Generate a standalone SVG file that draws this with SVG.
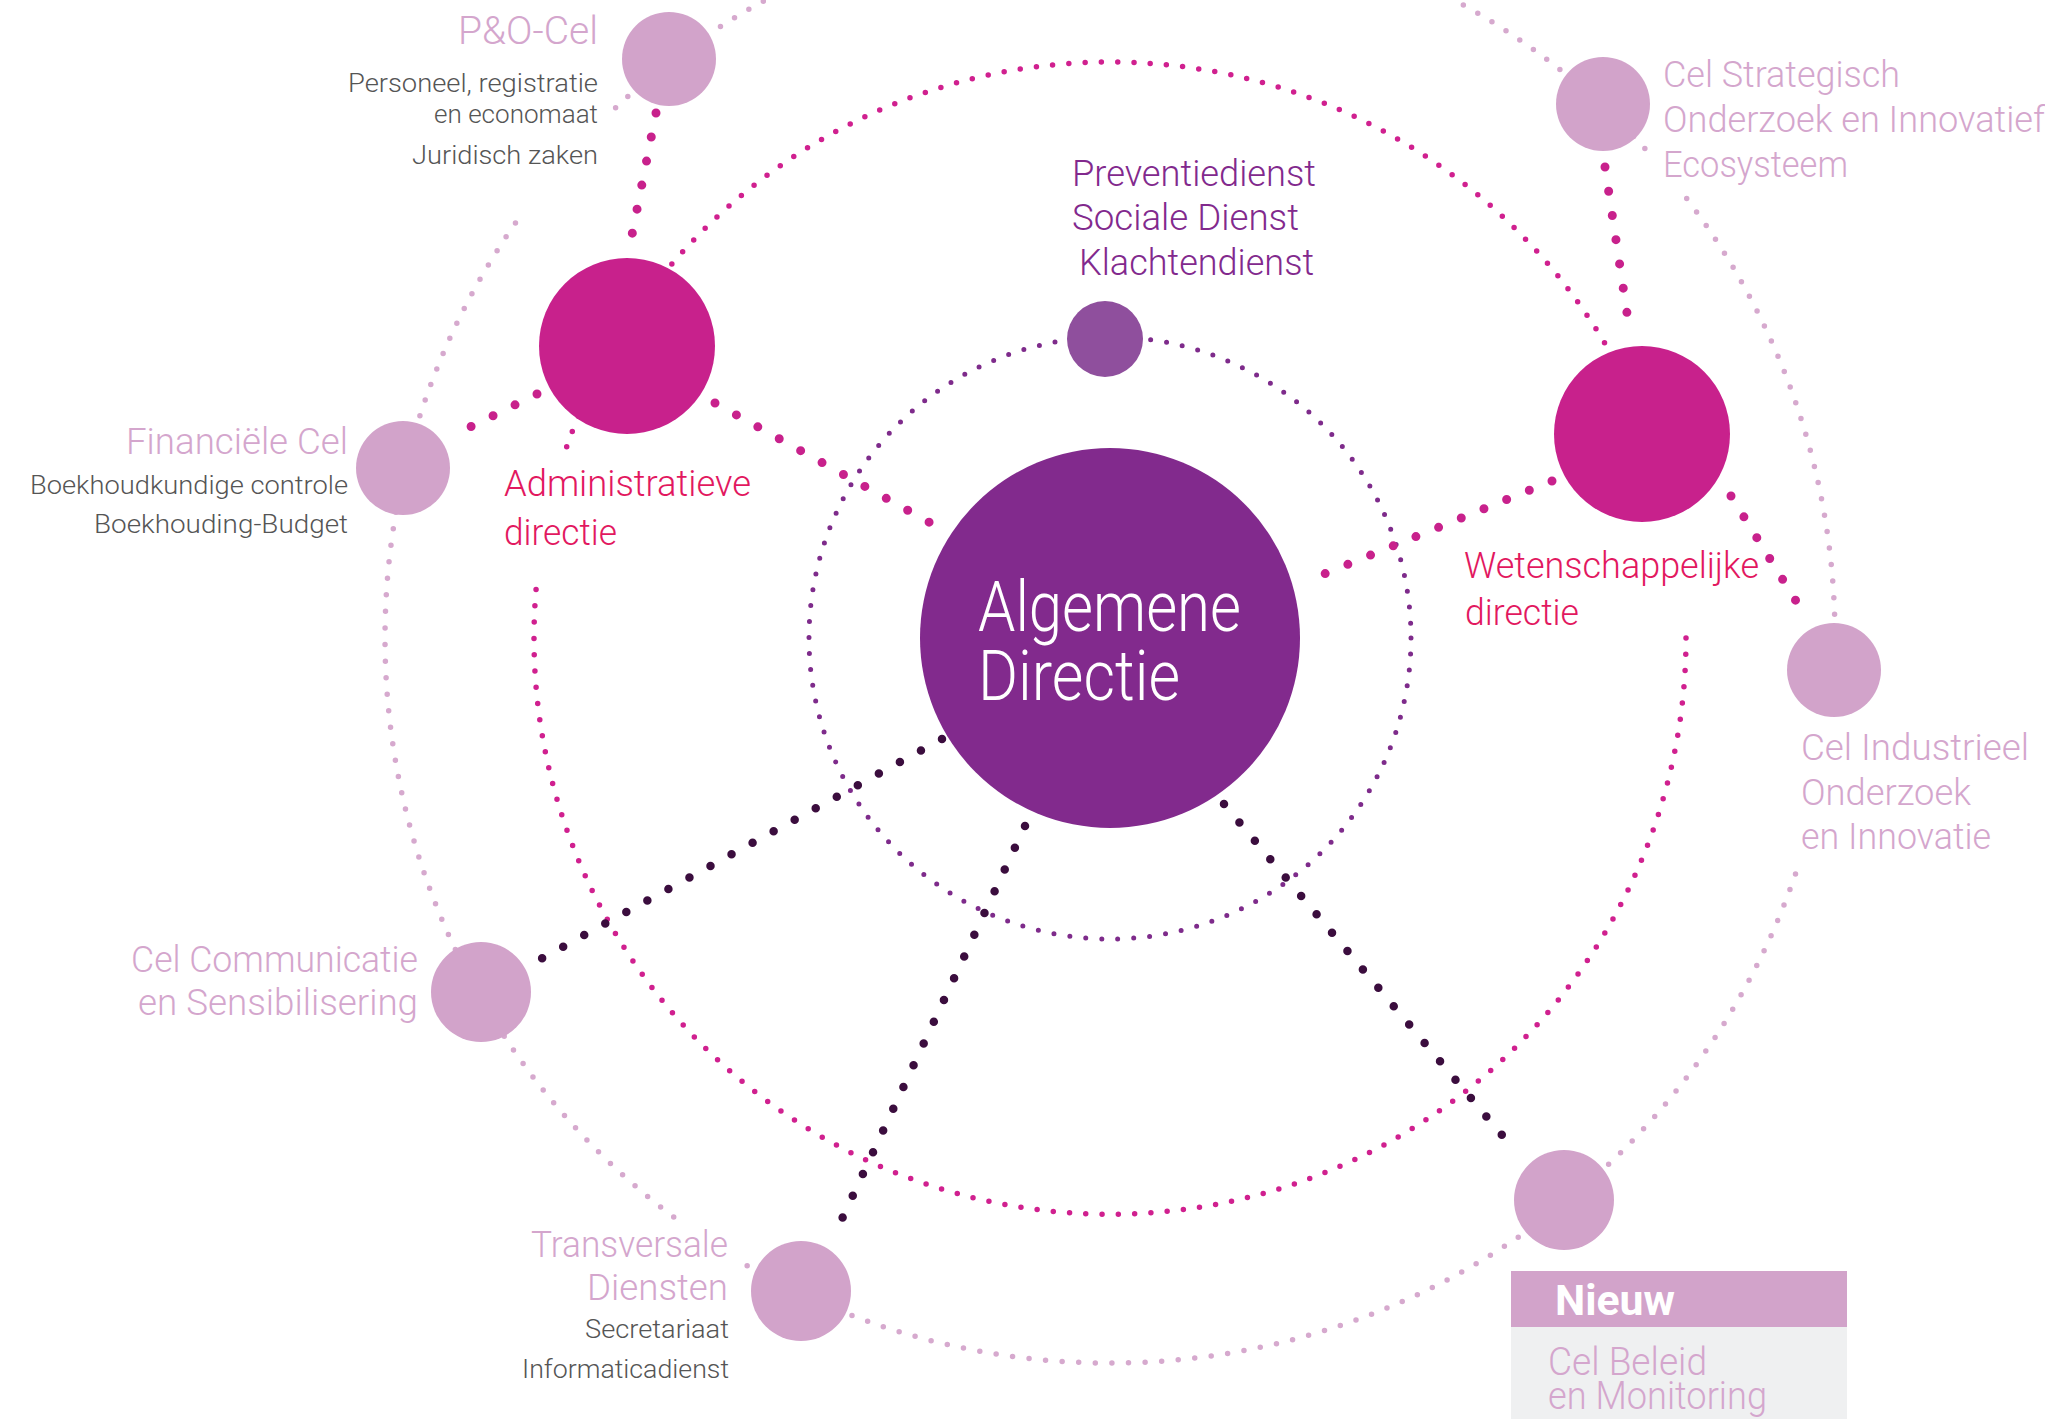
<svg xmlns="http://www.w3.org/2000/svg" width="2045" height="1419" viewBox="0 0 2045 1419">
<style>
.t{font-family:Roboto,"Liberation Sans","DejaVu Sans",sans-serif;font-weight:300}
.big{font-size:37px}
.sm{font-size:25px;fill:#555555}
.lp{fill:#d4a6cd}
.mg{fill:#e2185f}
.pu{fill:#82298d}
.ring{fill:none;stroke-linecap:round}
.r-in{stroke:#7e2b8b;stroke-width:5;stroke-dasharray:0 16.03}
.r-mid{stroke:#d0208f;stroke-width:5.5;stroke-dasharray:0 16.3}
.r-out{stroke:#d6a9ce;stroke-width:5.5;stroke-dasharray:0 16.6}
.c-dark{fill:none;stroke:#3b0d3e;stroke-width:8.5;stroke-linecap:round;stroke-dasharray:0 24}
.c-mag{fill:none;stroke:#c8218c;stroke-width:9;stroke-linecap:round;stroke-dasharray:0 24.5}
.n-lp{fill:#d2a3ca}
.n-mg{fill:#c8218c}
</style>
<rect width="2045" height="1419" fill="#ffffff"/>
<g id="rings">
<circle class="ring r-in" cx="1110" cy="638" r="301"/>
<path class="ring r-mid" d="M1686 638 A576 576 0 1 1 537.5 574.8"/>
<path class="ring r-mid" d="M566.7 446.7 A576 576 0 0 1 1673.4 518.2"/>
<path class="ring r-out" d="M615.6 107.7 A725 725 0 0 1 1648.8 152.9"/>
<path class="ring r-out" d="M1686.7 198.6 A725 725 0 0 1 1830.3 720.1"/>
<path class="ring r-out" d="M1795.5 874 A725 725 0 0 1 736.6 1259.5"/>
<path class="ring r-out" d="M673.7 1217 A725 725 0 0 1 523.5 211.8"/>
</g>
<g id="connectors">
<path class="c-dark" d="M942 739 L537 961"/>
<path class="c-dark" d="M1025 826 L835 1234"/>
<path class="c-dark" d="M1224 804 L1517 1153"/>
<path class="c-mag" d="M656 113 L629 250"/>
<path class="c-mag" d="M537 394 L456 434"/>
<path class="c-mag" d="M715 403 L936 526"/>
<path class="c-mag" d="M1552 481 L1312 579"/>
<path class="c-mag" d="M1605 167 L1630 333"/>
<path class="c-mag" d="M1731 496 L1801 609"/>
</g>
<g id="algemene-directie">
<circle cx="1110" cy="638" r="190" fill="#822a8d"/>
<text class="t" x="978" y="631" font-size="70" fill="#ffffff" textLength="263" lengthAdjust="spacingAndGlyphs">Algemene</text>
<text class="t" x="978" y="700" font-size="70" fill="#ffffff" textLength="202" lengthAdjust="spacingAndGlyphs">Directie</text>
</g>
<g id="preventiedienst">
<circle cx="1105" cy="339" r="38" fill="#8f4f9d"/>
<text class="t big pu" x="1072" y="186" textLength="244" lengthAdjust="spacingAndGlyphs">Preventiedienst</text>
<text class="t big pu" x="1072" y="230" textLength="227" lengthAdjust="spacingAndGlyphs">Sociale Dienst</text>
<text class="t big pu" x="1079" y="275" textLength="235" lengthAdjust="spacingAndGlyphs">Klachtendienst</text>
</g>
<g id="administratieve-directie">
<circle cx="627" cy="346" r="88" class="n-mg"/>
<text class="t big mg" x="504" y="496" textLength="247" lengthAdjust="spacingAndGlyphs">Administratieve</text>
<text class="t big mg" x="504" y="545" textLength="113" lengthAdjust="spacingAndGlyphs">directie</text>
</g>
<g id="wetenschappelijke-directie">
<circle cx="1642" cy="434" r="88" class="n-mg"/>
<text class="t big mg" x="1464" y="578" textLength="295" lengthAdjust="spacingAndGlyphs">Wetenschappelijke</text>
<text class="t big mg" x="1465" y="625" textLength="114" lengthAdjust="spacingAndGlyphs">directie</text>
</g>
<g id="po-cel">
<circle cx="669" cy="59" r="47" class="n-lp"/>
<text class="t lp" x="458" y="44" font-size="38" textLength="140" lengthAdjust="spacingAndGlyphs">P&amp;O-Cel</text>
<text class="t sm" x="348" y="92" textLength="250" lengthAdjust="spacingAndGlyphs">Personeel, registratie</text>
<text class="t sm" x="434" y="123" textLength="164" lengthAdjust="spacingAndGlyphs">en economaat</text>
<text class="t sm" x="412" y="164" textLength="186" lengthAdjust="spacingAndGlyphs">Juridisch zaken</text>
</g>
<g id="financiele-cel">
<circle cx="403" cy="468" r="47" class="n-lp"/>
<text class="t big lp" x="126" y="454" textLength="222" lengthAdjust="spacingAndGlyphs">Financiële Cel</text>
<text class="t sm" x="30" y="494" textLength="318" lengthAdjust="spacingAndGlyphs">Boekhoudkundige controle</text>
<text class="t sm" x="94" y="533" textLength="254" lengthAdjust="spacingAndGlyphs">Boekhouding-Budget</text>
</g>
<g id="cel-strategisch">
<circle cx="1603" cy="104" r="47" class="n-lp"/>
<text class="t big lp" x="1663" y="87" textLength="237" lengthAdjust="spacingAndGlyphs">Cel Strategisch</text>
<text class="t big lp" x="1663" y="132" textLength="382" lengthAdjust="spacingAndGlyphs">Onderzoek en Innovatief</text>
<text class="t big lp" x="1663" y="177" textLength="185" lengthAdjust="spacingAndGlyphs">Ecosysteem</text>
</g>
<g id="cel-industrieel">
<circle cx="1834" cy="670" r="47" class="n-lp"/>
<text class="t big lp" x="1801" y="760" textLength="228" lengthAdjust="spacingAndGlyphs">Cel Industrieel</text>
<text class="t big lp" x="1801" y="805" textLength="170" lengthAdjust="spacingAndGlyphs">Onderzoek</text>
<text class="t big lp" x="1801" y="849" textLength="190" lengthAdjust="spacingAndGlyphs">en Innovatie</text>
</g>
<g id="cel-communicatie">
<circle cx="481" cy="992" r="50" class="n-lp"/>
<text class="t big lp" x="131" y="972" textLength="287" lengthAdjust="spacingAndGlyphs">Cel Communicatie</text>
<text class="t big lp" x="138" y="1015" textLength="280" lengthAdjust="spacingAndGlyphs">en Sensibilisering</text>
</g>
<g id="transversale-diensten">
<circle cx="801" cy="1291" r="50" class="n-lp"/>
<text class="t big lp" x="531" y="1257" textLength="197" lengthAdjust="spacingAndGlyphs">Transversale</text>
<text class="t big lp" x="587" y="1300" textLength="141" lengthAdjust="spacingAndGlyphs">Diensten</text>
<text class="t sm" x="585" y="1338" textLength="144" lengthAdjust="spacingAndGlyphs">Secretariaat</text>
<text class="t sm" x="522" y="1378" textLength="207" lengthAdjust="spacingAndGlyphs">Informaticadienst</text>
</g>
<g id="cel-beleid">
<circle cx="1564" cy="1200" r="50" class="n-lp"/>
<rect x="1511" y="1271" width="336" height="56" fill="#d2a3ca"/>
<rect x="1511" y="1327" width="336" height="92" fill="#eff0f1"/>
<text x="1555" y="1315" font-family="Roboto,'Liberation Sans',sans-serif" font-weight="700" font-size="43" fill="#ffffff" textLength="120" lengthAdjust="spacingAndGlyphs">Nieuw</text>
<text class="t lp" x="1548" y="1375" font-size="38" textLength="159" lengthAdjust="spacingAndGlyphs">Cel Beleid</text>
<text class="t lp" x="1548" y="1409" font-size="38" textLength="219" lengthAdjust="spacingAndGlyphs">en Monitoring</text>
</g>
</svg>
